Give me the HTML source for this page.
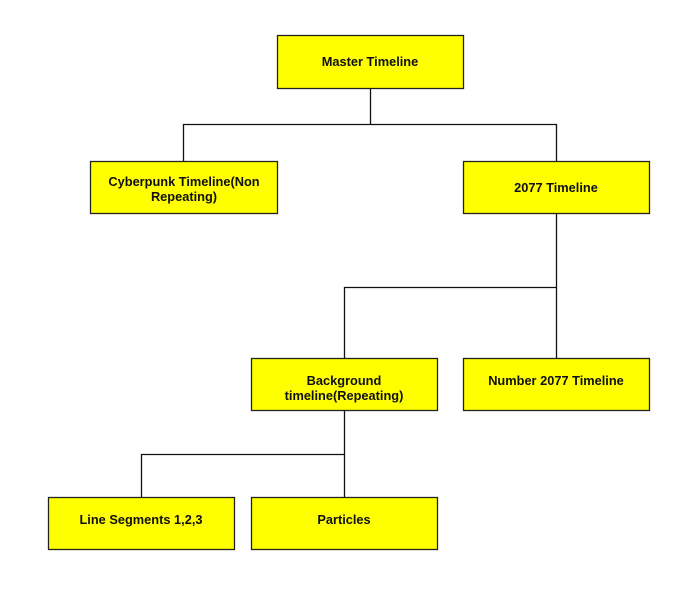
<!DOCTYPE html>
<html><head><style>
body{margin:0;background:#fff;}
svg text{font-family:"Liberation Sans",Arial,sans-serif;font-weight:bold;font-size:12.8px;fill:#111;text-anchor:middle;}
</style></head><body>
<svg width="686" height="595" xmlns="http://www.w3.org/2000/svg">
<g stroke="#111" stroke-width="1.3" fill="none">
<path d="M370.5 88V124.5M183.5 161V124.5H556.5V161"/>
<path d="M556.5 213V287.5M344.5 358V287.5H556.5V358"/>
<path d="M344.5 410V454.5M141.5 497V454.5H344.5V497"/>
</g>
<g fill="#ffff00" stroke="#222" stroke-width="1.3">
<rect x="277.5" y="35.5" width="186" height="53"/>
<rect x="90.5" y="161.5" width="187" height="52"/>
<rect x="463.5" y="161.5" width="186" height="52"/>
<rect x="251.5" y="358.5" width="186" height="52"/>
<rect x="463.5" y="358.5" width="186" height="52"/>
<rect x="48.5" y="497.5" width="186" height="52"/>
<rect x="251.5" y="497.5" width="186" height="52"/>
</g>
<text x="370" y="66">Master Timeline</text>
<text x="184" y="186">Cyberpunk Timeline(Non</text>
<text x="184" y="201">Repeating)</text>
<text x="556" y="192">2077 Timeline</text>
<text x="344" y="385">Background</text>
<text x="344" y="400">timeline(Repeating)</text>
<text x="556" y="385">Number 2077 Timeline</text>
<text x="141" y="524">Line Segments 1,2,3</text>
<text x="344" y="524">Particles</text>
</svg>
</body></html>
